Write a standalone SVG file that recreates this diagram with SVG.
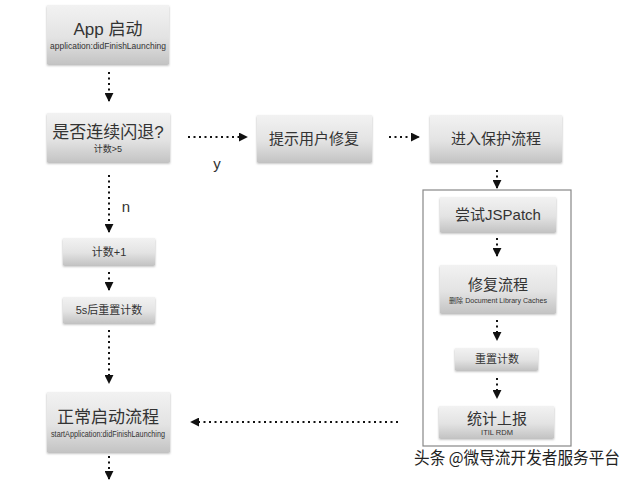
<svg xmlns="http://www.w3.org/2000/svg" width="640" height="480" viewBox="0 0 640 480">
<defs>
<linearGradient id="g" x1="0" y1="0" x2="0" y2="1">
<stop offset="0" stop-color="#f2f2f2"/>
<stop offset="0.55" stop-color="#e3e3e3"/>
<stop offset="1" stop-color="#c4c4c4"/>
</linearGradient>
<filter id="sh" x="-10%" y="-10%" width="120%" height="130%">
<feDropShadow dx="0" dy="1.5" stdDeviation="1.2" flood-color="#000" flood-opacity="0.3"/>
</filter>
<marker id="ah" viewBox="0 0 10 10" refX="9" refY="5" markerWidth="9" markerHeight="9" markerUnits="userSpaceOnUse" orient="auto">
<path d="M0,0 L10,5 L0,10 Z" fill="#111"/>
</marker>
</defs>
<style>
.box{fill:url(#g);filter:url(#sh)}
.t{font-family:"Liberation Sans","Noto Sans CJK SC",sans-serif;fill:#333;text-anchor:middle}
.big{font-size:17px}
.mid{font-size:15px}
.sm{font-size:11px}
.xs{font-size:9px}
.c{stroke:#111;stroke-width:2;stroke-dasharray:2 3.5;fill:none;marker-end:url(#ah)}
</style>
<rect width="640" height="480" fill="#fff"/>
<g id="connectors">
<path class="c" d="M109,72 V101"/>
<path class="c" d="M188,137 H247"/>
<path class="c" d="M389,137 H419"/>
<path class="c" d="M497,170 V188"/>
<path class="c" d="M109,175 V232"/>
<path class="c" d="M109,272 V290"/>
<path class="c" d="M109,330 V383"/>
<path class="c" d="M109,456 V479"/>
<path class="c" d="M497,238 V256"/>
<path class="c" d="M497,320 V340"/>
<path class="c" d="M497,378 V398"/>
<path class="c" d="M398,422 H191"/>
<text class="t" x="217" y="169" font-size="15">y</text>
<text class="t" x="126" y="212" font-size="15">n</text>
</g>
<rect id="protect-frame" x="423" y="190" width="148" height="256" fill="none" stroke="#888" stroke-width="1.2"/>
<g id="n1"><rect class="box" x="47" y="5" width="122" height="59"/>
<text class="t big" x="108" y="35">App 启动</text>
<text class="t xs" x="108" y="49" textLength="116" lengthAdjust="spacingAndGlyphs">application:didFinishLaunching</text></g>
<g id="n2"><rect class="box" x="47" y="113" width="123" height="49"/>
<text class="t big" x="108" y="138">是否连续闪退?</text>
<text class="t xs" x="108" y="152">计数&gt;5</text></g>
<g id="n3"><rect class="box" x="257" y="115" width="115" height="47"/>
<text class="t mid" x="314" y="144">提示用户修复</text></g>
<g id="n4"><rect class="box" x="430" y="115" width="132" height="47"/>
<text class="t mid" x="496" y="144">进入保护流程</text></g>
<g id="n5"><rect class="box" x="63" y="238" width="92" height="27"/>
<text class="t sm" x="109" y="256">计数+1</text></g>
<g id="n6"><rect class="box" x="63" y="297" width="92" height="26"/>
<text class="t sm" x="109" y="314">5s后重置计数</text></g>
<g id="n7"><rect class="box" x="47" y="392" width="123" height="60"/>
<text class="t big" x="108" y="423">正常启动流程</text>
<text class="t xs" x="108" y="437" textLength="114" lengthAdjust="spacingAndGlyphs">startApplication:didFinishLaunching</text></g>
<g id="n8"><rect class="box" x="440" y="197" width="116" height="35"/>
<text class="t mid" x="498" y="220">尝试JSPatch</text></g>
<g id="n9"><rect class="box" x="440" y="265" width="116" height="48"/>
<text class="t mid" x="498" y="290">修复流程</text>
<text class="t" x="498" y="303" font-size="7" textLength="98" lengthAdjust="spacingAndGlyphs">删除 Document Library Caches</text></g>
<g id="n10"><rect class="box" x="455" y="348" width="83" height="22"/>
<text class="t sm" x="497" y="363">重置计数</text></g>
<g id="n11"><rect class="box" x="439" y="406" width="115" height="32"/>
<text class="t mid" x="497" y="424">统计上报</text>
<text class="t" x="497" y="435" font-size="7.5">ITIL RDM</text></g>
<text x="414" y="464" font-family="'Noto Sans CJK SC',sans-serif" font-size="17" fill="#222" stroke="#fff" stroke-width="0.6" paint-order="stroke" textLength="206" lengthAdjust="spacingAndGlyphs">头条 @微导流开发者服务平台</text>
</svg>
